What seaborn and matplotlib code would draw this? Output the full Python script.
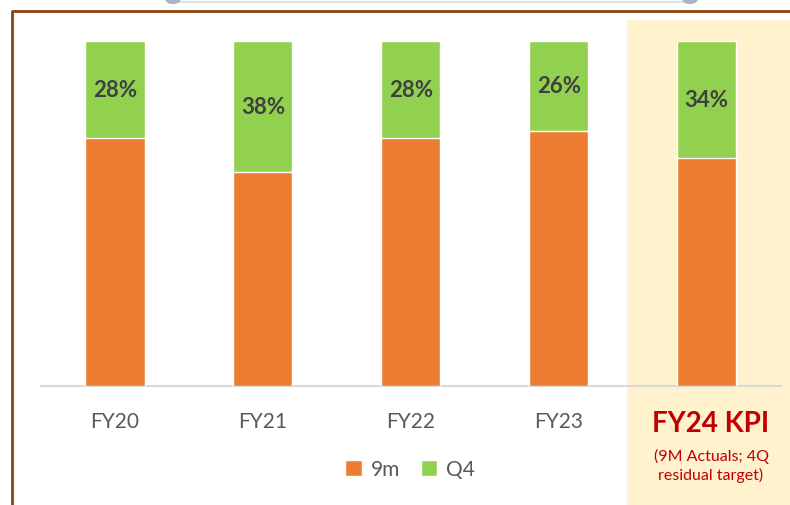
import pandas as pd
import matplotlib.pyplot as plt
import seaborn as sns
from matplotlib.patches import Rectangle, Patch, Circle
from matplotlib.lines import Line2D

# Share of full-year value: first nine months vs Q4 (%)
years = ['FY20', 'FY21', 'FY22', 'FY23', 'FY24']
nine_m = [72, 62, 72, 74, 66]
q4 = [28, 38, 28, 26, 34]
tick_labels = ['FY20', 'FY21', 'FY22', 'FY23', '']

ORANGE = '#ED7D31'
GREEN = '#92D050'
RED = '#C00000'

sns.set_theme(style='white')
plt.rcParams['font.family'] = ['Lato', 'DejaVu Sans']

df = pd.DataFrame({'year': years, '9m': nine_m, 'Q4': q4})
df['total'] = df['9m'] + df['Q4']

W, H = 790, 506
fig = plt.figure(figsize=(W / 100, H / 100), dpi=100)

# highlight panel behind FY24
fig.patches.append(Rectangle((627 / W, 0), (W - 627) / W, (H - 21) / H,
                             transform=fig.transFigure, facecolor='#FFF2CC',
                             edgecolor='none', zorder=-1))
# brown frame (left and top)
fig.lines.append(Line2D([12 / W, 12 / W, 1.0], [0, 1 - 12 / H, 1 - 12 / H],
                        transform=fig.transFigure, color='#8B4513', lw=2, zorder=1))
# slider at the top
fig.lines.append(Line2D([173 / W, 690 / W], [1 - 3 / H, 1 - 3 / H],
                        transform=fig.transFigure, color='#D6DCE5', lw=1.2, zorder=1))
for cx in (173, 690):
    fig.patches.append(Circle((cx / W, 1.0), 8 / W, transform=fig.transFigure,
                              facecolor='#A8B4C8', edgecolor='none', zorder=2))

ax = fig.add_axes([41 / W, (H - 387) / H, (780.5 - 41) / W, (387 - 42) / H])
ax.set_facecolor('none')
ax.set_zorder(5)

sns.barplot(data=df, x='year', y='total', color=GREEN, width=0.4,
            saturation=1, ax=ax, zorder=3)
sns.barplot(data=df, x='year', y='9m', color=ORANGE, width=0.4,
            saturation=1, ax=ax, zorder=3)

for i, (a, b) in enumerate(zip(nine_m, q4)):
    ax.text(i, a + b / 2, f'{b}%', ha='center', va='center', fontsize=16,
            fontweight='bold', color='#404040', zorder=4)

ax.set_ylim(0, 100)
ax.set_xlim(-0.5, 4.5)
ax.set_yticks([])
ax.set_xticks(range(len(years)))
ax.set_xticklabels(tick_labels, fontsize=15, color='#595959')
ax.tick_params(axis='x', length=0, pad=18)
ax.set_xlabel('')
ax.set_ylabel('')
for s in ['top', 'right', 'left']:
    ax.spines[s].set_visible(False)
ax.spines['bottom'].set_color('#D9D9D9')
ax.spines['bottom'].set_linewidth(1.5)

fig.text(711 / W, 1 - 424 / H, 'FY24 KPI', ha='center', va='center',
         fontsize=20, fontweight='bold', color=RED)
fig.text(711 / W, 1 - 466 / H, '(9M Actuals; 4Q\nresidual target)', ha='center',
         va='center', fontsize=11.5, color=RED, linespacing=1.35)

handles = [Patch(facecolor=ORANGE, label='9m'), Patch(facecolor=GREEN, label='Q4')]
fig.legend(handles=handles, loc='center', bbox_to_anchor=(410 / W, 1 - 470 / H),
           ncol=2, frameon=False, fontsize=15, handlelength=0.8, handleheight=0.8,
           handletextpad=0.4, columnspacing=1.0, labelcolor='#595959')

fig.savefig('out.png', dpi=100)
